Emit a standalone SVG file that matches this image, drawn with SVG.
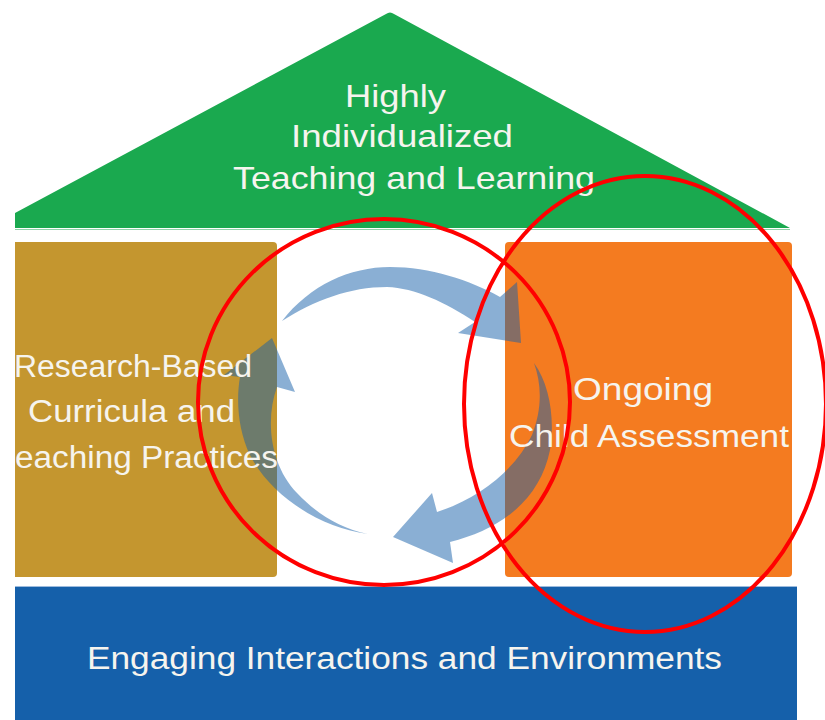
<svg xmlns="http://www.w3.org/2000/svg" width="825" height="720" viewBox="0 0 825 720">
  <style>
    .lbl { font-family: "Liberation Sans", Arial, sans-serif; fill: #F6F4EE; }
    .roof { font-size: 32px; }
    .box { font-size: 31px; }
    .arrow { fill: #1560AA; fill-opacity: 0.5; }
    .ring { fill: none; stroke: #FF0000; stroke-width: 4; }
  </style>
  <rect width="825" height="720" fill="#FFFFFF"/>

  <g id="node-roof">
    <path d="M15,228 L15,213 L386,14 Q390,11 394,14 L790,228 Z" fill="#1AA94F"/>
    <line x1="15" y1="229.5" x2="790" y2="229.5" stroke="#8FD3A8" stroke-width="1"/>
  </g>

  <g id="node-curricula">
    <path d="M15,242 L273,242 Q277,242 277,246 L277,573 Q277,577 273,577 L15,577 Z" fill="#C4962F"/>
  </g>

  <g id="node-assessment">
    <rect x="505" y="242" width="287" height="335" rx="4" fill="#F47B20"/>
  </g>

  <g id="node-base">
    <rect x="15" y="587" width="782" height="133" fill="#1560AA"/>
    <line x1="15" y1="586.5" x2="797" y2="586.5" stroke="#9DBBDD" stroke-width="1"/>
  </g>

  <g id="connectors">
    <path class="arrow" d="M282,321 C310,285 350,267 390,267 C430,267 470,280 500,297 L517,282 L521,343 L458,333 L475,322 C445,302 415,288 387,287 C350,287 315,300 282,321 Z"/>
    <path class="arrow" d="M534,363 C550,385 555,420 550,450 C540,500 500,530 450,542 L453,563 L393,537 L432,493 L437,512 C480,498 515,470 532,435 C542,410 542,385 534,363 Z"/>
    <path class="arrow" d="M368,534 C320,528 270,495 250,455 C238,430 236,400 240,377 L224,375 L272,338 L295,392 L277,387 C265,420 270,465 297,493 C318,515 340,528 368,534 Z"/>
  </g>

  <g id="label-roof">
    <text class="lbl roof" x="345" y="107" textLength="101" lengthAdjust="spacingAndGlyphs">Highly</text>
    <text class="lbl roof" x="291" y="147" textLength="222" lengthAdjust="spacingAndGlyphs">Individualized</text>
    <text class="lbl roof" x="233" y="189" textLength="362" lengthAdjust="spacingAndGlyphs">Teaching and Learning</text>
  </g>

  <g id="label-curricula">
    <text class="lbl box" x="14" y="377" textLength="238" lengthAdjust="spacingAndGlyphs">Research-Based</text>
    <text class="lbl box" x="28" y="422" textLength="207" lengthAdjust="spacingAndGlyphs">Curricula and</text>
    <text class="lbl box" x="15" y="468" textLength="263" lengthAdjust="spacingAndGlyphs">eaching Practices</text>
  </g>

  <g id="label-assessment">
    <text class="lbl box" x="573" y="400" textLength="140" lengthAdjust="spacingAndGlyphs">Ongoing</text>
    <text class="lbl box" x="509" y="447" textLength="280" lengthAdjust="spacingAndGlyphs">Child Assessment</text>
  </g>

  <g id="label-base">
    <text class="lbl box" x="87" y="669" textLength="635" lengthAdjust="spacingAndGlyphs">Engaging Interactions and Environments</text>
  </g>

  <g id="annotations">
    <ellipse class="ring" cx="384" cy="402" rx="186" ry="183"/>
    <ellipse class="ring" cx="645" cy="404" rx="181" ry="228"/>
  </g>
</svg>
